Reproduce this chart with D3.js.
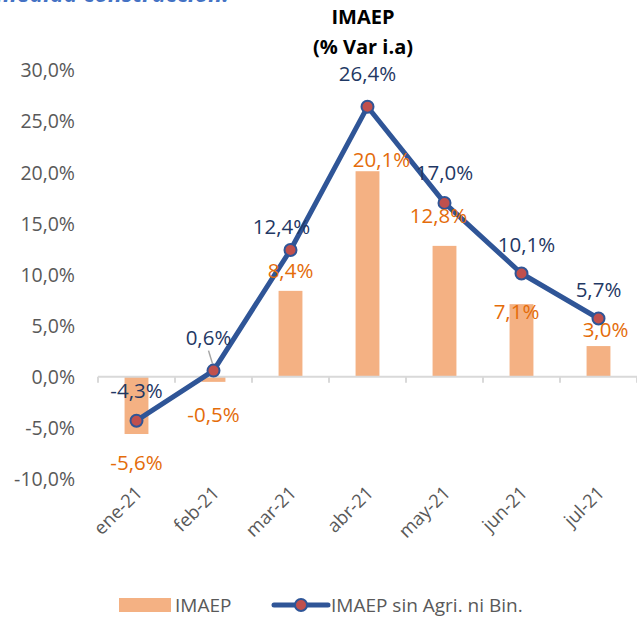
<!DOCTYPE html>
<html><head><meta charset="utf-8">
<script src="https://cdn.jsdelivr.net/npm/d3@7"></script>
<style>body{margin:0;background:#fff}svg{display:block}text{font-family:"Open Sans",sans-serif}</style>
</head><body>
<svg id="c" width="637" height="619"></svg>
<script>
const categories = ["ene-21","feb-21","mar-21","abr-21","may-21","jun-21","jul-21"];
const imaep = [-5.6,-0.5,8.4,20.1,12.8,7.1,3.0];
const imaepSin = [-4.3,0.6,12.4,26.4,17.0,10.1,5.7];
const yTicks = [-10,-5,0,5,10,15,20,25,30];
// label offsets (dx, dy in px relative to the mark)
const barLabelOff = [[0,29],[0,33],[0,-20],[14,-11],[-6,-30],[-5,8],[7,-16]];
const lineLabelOff = [[0,-30],[-5,-33],[-9,-23],[0,-33],[0,-30],[5,-29],[0,-29]];

const svg = d3.select("#c");
const fmt = v => v.toFixed(1).replace(".", ",") + "%";
const x = d3.scaleBand().domain(categories).range([98, 637]).padding(0);
const y = d3.scaleLinear().domain([-10, 30]).range([479, 70]);

// clipped top text
svg.append("text").attr("x", -4).attr("y", 2).attr("font-size", 23).attr("font-weight", "bold")
  .attr("font-style", "italic").attr("fill", "#4472C4").text("medida construcción:");

// title
svg.append("text").attr("x", 363).attr("y", 24).attr("text-anchor", "middle").attr("font-size", 20)
  .attr("font-weight", "bold").attr("fill", "#000").text("IMAEP");
svg.append("text").attr("x", 363).attr("y", 54).attr("text-anchor", "middle").attr("font-size", 20)
  .attr("font-weight", "bold").attr("fill", "#000").text("(% Var i.a)");

// y axis labels
const yAxis = d3.axisLeft(y).tickValues(yTicks).tickSize(0).tickPadding(0).tickFormat(d => d.toFixed(1).replace(".", ",") + "%");
const ga = svg.append("g").attr("transform", "translate(75,0)").call(yAxis);
ga.select(".domain").remove();
ga.selectAll("text").attr("font-size", 19.5).attr("fill", "#595959").attr("font-family", "Open Sans").attr("dy", "0.35em");

// bars
const bw = x.bandwidth() * 0.31;
svg.append("g").selectAll("rect").data(imaep).join("rect")
  .attr("x", (d, i) => x(categories[i]) + x.bandwidth() / 2 - bw / 2)
  .attr("width", bw)
  .attr("y", d => Math.min(y(d), y(0)))
  .attr("height", d => Math.abs(y(d) - y(0)))
  .attr("fill", "#F4B183");

// zero axis with ticks
svg.append("line").attr("x1", 98).attr("x2", 637).attr("y1", y(0)).attr("y2", y(0))
  .attr("stroke", "#D9D9D9").attr("stroke-width", 2);
const bounds = categories.map(c => x(c)).concat([637]);
svg.append("g").selectAll("line").data(bounds).join("line")
  .attr("x1", d => d).attr("x2", d => d).attr("y1", y(0)).attr("y2", y(0) + 6)
  .attr("stroke", "#D9D9D9").attr("stroke-width", 2);

// x labels
svg.append("g").selectAll("text").data(categories).join("text")
  .attr("transform", d => `translate(${x(d) + x.bandwidth() / 2 + 7},${494}) rotate(-45)`)
  .attr("text-anchor", "end").attr("font-size", 18.5).attr("fill", "#595959").text(d => d);

// line
const cx = i => x(categories[i]) + x.bandwidth() / 2;
const line = d3.line().x((d, i) => cx(i)).y(d => y(d));
svg.append("path").datum(imaepSin).attr("d", line).attr("fill", "none")
  .attr("stroke", "#2F5597").attr("stroke-width", 5).attr("stroke-linejoin", "round");

// leader line feb
svg.append("line").attr("x1", cx(1) - 5).attr("y1", y(imaepSin[1]) - 20).attr("x2", cx(1) - 1).attr("y2", y(imaepSin[1]) - 7)
  .attr("stroke", "#A6A6A6").attr("stroke-width", 1.5);

svg.append("g").selectAll("circle").data(imaepSin).join("circle")
  .attr("cx", (d, i) => cx(i)).attr("cy", d => y(d)).attr("r", 6)
  .attr("fill", "#C0504D").attr("stroke", "#2F5597").attr("stroke-width", 2);

// bar labels
svg.append("g").selectAll("text").data(imaep).join("text")
  .attr("x", (d, i) => cx(i) + barLabelOff[i][0])
  .attr("y", (d, i) => y(d) + barLabelOff[i][1])
  .attr("dy", "0.35em").attr("text-anchor", "middle").attr("font-size", 20.5).attr("fill", "#E46C0A")
  .text(fmt);

// line labels
svg.append("g").selectAll("text").data(imaepSin).join("text")
  .attr("x", (d, i) => cx(i) + lineLabelOff[i][0])
  .attr("y", (d, i) => y(d) + lineLabelOff[i][1])
  .attr("dy", "0.35em").attr("text-anchor", "middle").attr("font-size", 20.5).attr("fill", "#1F3864")
  .text(fmt);

// legend
const lg = svg.append("g");
lg.append("rect").attr("x", 119).attr("y", 598).attr("width", 52).attr("height", 14).attr("fill", "#F4B183");
lg.append("text").attr("x", 175).attr("y", 605).attr("dy", "0.35em").attr("font-size", 19).attr("fill", "#595959").text("IMAEP");
lg.append("line").attr("x1", 274).attr("x2", 328).attr("y1", 605).attr("y2", 605)
  .attr("stroke", "#2F5597").attr("stroke-width", 5).attr("stroke-linecap", "round");
lg.append("circle").attr("cx", 301).attr("cy", 605).attr("r", 6).attr("fill", "#C0504D").attr("stroke", "#2F5597").attr("stroke-width", 2);
lg.append("text").attr("x", 331).attr("y", 605).attr("dy", "0.35em").attr("font-size", 19).attr("fill", "#595959").text("IMAEP sin Agri. ni Bin.");
</script>
</body></html>
